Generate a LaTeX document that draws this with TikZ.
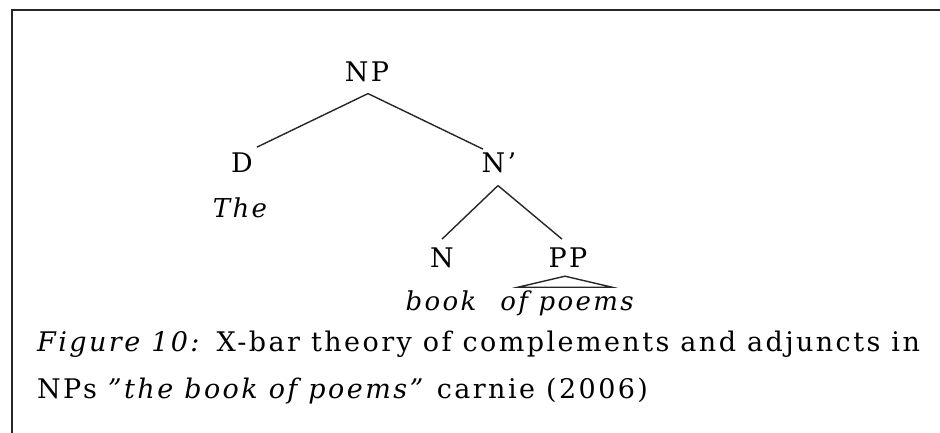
\documentclass[tikz,border=0pt]{standalone}
\usepackage{fontspec}
\setmainfont{DejaVu Serif}[LetterSpace=9]
\usepackage{tikz}
\usetikzlibrary{calc,positioning}

\begin{document}
\begin{tikzpicture}[x=1pt,y=-1pt,font=\fontsize{27}{31}\selectfont,
    every node/.style={inner sep=1pt,anchor=base},
    word/.style={font=\fontsize{26}{30}\selectfont\itshape},
    branch/.style={line width=1.4pt,black!85}]
  \useasboundingbox (0,0) rectangle (940,433);
  \draw[line width=2.5pt,black!85] (12,433) |- (940,10);
  % tree
  \node (np) at (367,82) {NP};
  \node (d) at (242,172) {D};
  \node (nbar) at (499,172) {N'};
  \node (n) at (442,267) {N};
  \node (pp) at (568,267) {PP};
  \node[word] (the) at (240,217) {The};
  \node[word] (book) at (441,310) {book};
  \node[word] (poems) at (567,310) {of poems};
  \draw[branch] ($(np.south)+(1,10)$) -- ($(d.north)+(15,-4)$);
  \draw[branch] ($(np.south)+(1,10)$) -- ($(nbar.north)+(-16,-2)$);
  \draw[branch] ($(nbar.south)+(-1,12)$) -- ($(n.north)+(0,-7)$);
  \draw[branch] ($(nbar.south)+(-1,12)$) -- ($(pp.north)+(-6,-7)$);
  \draw[branch] ($(pp.south)+(-3,8)$) -- ($(pp.south)+(-50,19)$) -- ($(pp.south)+(44,19)$) -- cycle;
  % caption
  \node[anchor=base west] (cap1) at (36,351) {\textit{Figure 10:} X-bar theory of complements and adjuncts in};
  \node[anchor=base west] (cap2) at (36,398) {NPs \textit{''the book of poems''} carnie (2006)};
\end{tikzpicture}
\end{document}
